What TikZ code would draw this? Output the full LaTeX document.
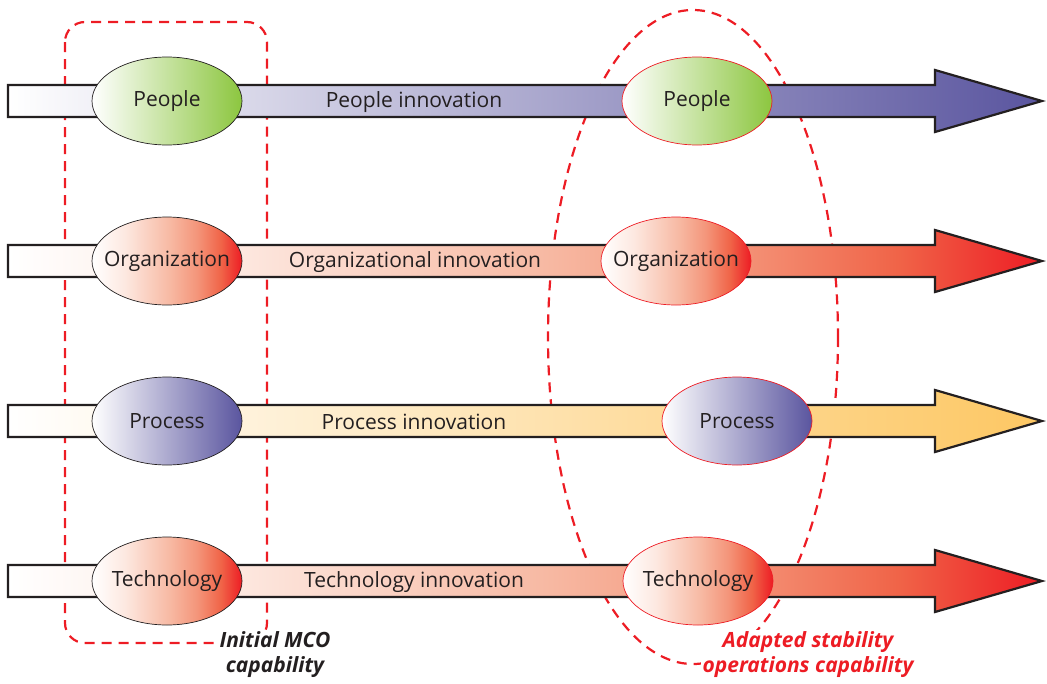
\documentclass[tikz,border=0pt]{standalone}
\usepackage{fontspec}
\setmainfont{Open Sans}
\usetikzlibrary{shapes.geometric}
\definecolor{ink}{HTML}{231F20}
\definecolor{mcored}{HTML}{ED1C24}
\definecolor{purp}{HTML}{5A559F}
\definecolor{leaf}{HTML}{8CC63F}
\definecolor{amber}{HTML}{FDC763}
\definecolor{peachA}{HTML}{FDE8E0}
\definecolor{peachB}{HTML}{F7B9A3}
\definecolor{peachC}{HTML}{F4957A}
\definecolor{peachD}{HTML}{F06448}
\pgfdeclarehorizontalshading{redfade}{100bp}{color(0bp)=(white); color(25bp)=(white);
    color(36bp)=(peachA); color(51bp)=(peachB); color(60bp)=(peachC);
    color(68bp)=(peachD); color(75bp)=(mcored); color(100bp)=(mcored)}
\tikzset{
    bigarrow/.style={draw=ink, line width=2.2pt, line join=miter},
    blob/.style={ellipse, minimum width=150, minimum height=88, inner xsep=-20pt,
        inner ysep=0pt, line width=0.7pt, font=\fontsize{21}{25}\selectfont, text=ink},
    inno/.style={font=\fontsize{21}{25}\selectfont, text=ink},
    capt/.style={align=center, fill=white, inner sep=2pt,
        font=\fontsize{21}{25}\selectfont\bfseries\itshape},
    redgrad/.style={shading=redfade},
    fence/.style={draw=mcored, line width=2.2pt, dash pattern=on 10pt off 7pt}
}

\begin{document}
\begin{tikzpicture}[x=1pt, y=-1pt]
    \useasboundingbox (0, 0) rectangle (1047, 683);
    % capability fences
    \draw[fence, rounded corners=20] (65, 22) rectangle (267, 643);
    \draw[fence] (693, 337) ellipse [x radius=145, y radius=327];
    % innovation arrows
    \draw[bigarrow, left color=white, right color=purp] (8, 85) -- (935, 85) -- (935, 70) -- (1042, 101) -- (935, 132) -- (935, 117) -- (8, 117) -- cycle;
    \draw[bigarrow, redgrad] (8, 245) -- (935, 245) -- (935, 230) -- (1042, 261) -- (935, 292) -- (935, 277) -- (8, 277) -- cycle;
    \draw[bigarrow, left color=white, right color=amber] (8, 405) -- (935, 405) -- (935, 390) -- (1042, 421) -- (935, 452) -- (935, 437) -- (8, 437) -- cycle;
    \draw[bigarrow, redgrad] (8, 565) -- (935, 565) -- (935, 550) -- (1042, 581) -- (935, 612) -- (935, 597) -- (8, 597) -- cycle;
    \node[inno] (peopleinno) at (414, 102) {People innovation};
    \node[inno] (orginno) at (415, 262) {Organizational innovation};
    \node[inno] (procinno) at (414, 422) {Process innovation};
    \node[inno] (techinno) at (414, 582) {Technology innovation};
    % initial
    \node[blob, draw=ink, left color=white, right color=leaf] (peopleL) at (167, 101) {People};
    \node[blob, draw=ink, redgrad] (orgL) at (167, 261) {Organization};
    \node[blob, draw=ink, left color=white, right color=purp] (procL) at (167, 421) {Process};
    \node[blob, draw=ink, redgrad] (techL) at (167, 581) {Technology};
    % adapted
    \node[blob, draw=mcored, left color=white, right color=leaf] (peopleR) at (697, 101) {People};
    \node[blob, draw=mcored, redgrad] (orgR) at (676, 261) {Organization};
    \node[blob, draw=mcored, left color=white, right color=purp] (procR) at (737, 421) {Process};
    \node[blob, draw=mcored, redgrad] (techR) at (698, 581) {Technology};
    \node[capt, text=ink] (initcap) at (275, 655) {Initial MCO\\capability};
    \node[capt, text=mcored] (adaptcap) at (808, 655) {Adapted stability\\operations capability};
\end{tikzpicture}
\end{document}
